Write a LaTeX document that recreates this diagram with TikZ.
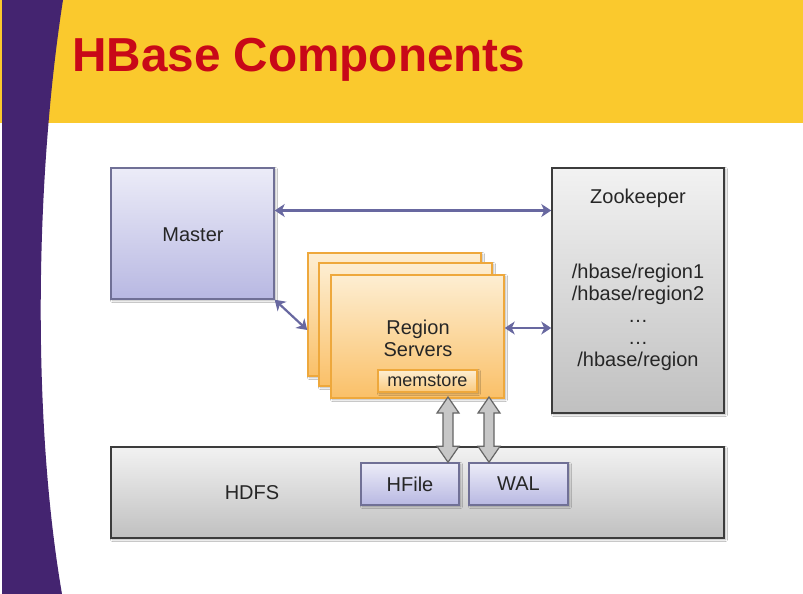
\documentclass[tikz,border=0pt]{standalone}
\usepackage{fontspec}
\setmainfont{Liberation Sans}
\usetikzlibrary{arrows.meta,shadows.blur,calc}

\definecolor{banner}{RGB}{250,201,45}
\definecolor{sidebar}{RGB}{68,36,112}
\definecolor{titlered}{RGB}{200,8,24}
\definecolor{link}{RGB}{104,104,160}
\definecolor{lavtop}{RGB}{236,236,248}
\definecolor{lavbot}{RGB}{184,184,226}
\definecolor{lavline}{RGB}{112,112,150}
\definecolor{greytop}{RGB}{242,242,242}
\definecolor{greybot}{RGB}{192,192,192}
\definecolor{greyline}{RGB}{60,60,60}
\definecolor{ortop}{RGB}{253,238,210}
\definecolor{orbot}{RGB}{250,192,104}
\definecolor{orline}{RGB}{238,168,60}

\tikzset{
  softshadow/.style={blur shadow={shadow xshift=1.5pt,shadow yshift=-1.5pt,
      shadow blur radius=2pt,shadow blur steps=6,shadow opacity=30}},
  lavbox/.style={draw=lavline,line width=1.5pt,top color=lavtop,bottom color=lavbot,
      softshadow,inner sep=0pt},
  greybox/.style={draw=greyline,line width=1.5pt,top color=greytop,bottom color=greybot,
      softshadow,inner sep=0pt},
  rsbox/.style={draw=orline,line width=1.5pt,top color=ortop,bottom color=orbot,
      softshadow,inner sep=0pt,minimum width=173pt,minimum height=123pt},
  label/.style={font=\fontsize{20}{22}\selectfont,text=black!85,align=center},
  link/.style={draw=link,line width=2.2pt,
      {Stealth[length=10pt,width=13pt,inset=3pt]}-{Stealth[length=10pt,width=13pt,inset=3pt]}},
  dblarrow/.style={draw=black!60,line width=1.2pt,fill=black!22,
      to path={let \p1=(\tikztostart), \p2=(\tikztotarget) in
        (\x1,\y1) -- (\x1+11pt,\y1-16pt) -- (\x1+5pt,\y1-16pt) -- (\x1+5pt,\y2+16pt)
        -- (\x1+11pt,\y2+16pt) -- (\x2,\y2) -- (\x1-11pt,\y2+16pt) -- (\x1-5pt,\y2+16pt)
        -- (\x1-5pt,\y1-16pt) -- (\x1-11pt,\y1-16pt) -- cycle}},
}

\begin{document}
\begin{tikzpicture}[x=1pt,y=-1pt]
\useasboundingbox (0,0) rectangle (803,594);
\fill[white] (0,0) rectangle (803,594);

% header band and side bar
\fill[banner] (0,0) rectangle (803,123);
\fill[sidebar] (2,0) -- (63,0) .. controls (35,180) and (32,420) .. (62,594) -- (2,594) -- cycle;
\node[anchor=base west,inner sep=0pt,text=titlered,
      font=\bfseries\fontsize{47.7}{50}\selectfont] (title) at (72,72) {HBase Components};

% main components
\node[lavbox,minimum width=163pt,minimum height=131pt] (master) at (192.5,233.5) {};
\node[label] (mastertxt) at (193,235) {Master};

\node[greybox,minimum width=172pt,minimum height=245pt] (zk) at (638,290.5) {};
\node[label] (zktxt) at (638,198) {Zookeeper};
\node[label] (zklist) at (638,317)
  {/hbase/region1\\/hbase/region2\\…\\…\\/hbase/region};

\node[greybox,minimum width=613pt,minimum height=91pt] (hdfs) at (417.5,492.5) {};
\node[label] (hdfstxt) at (252,493) {HDFS};

% region servers stack
\node[rsbox] (rs3) at (394.5,314.5) {};
\node[rsbox] (rs2) at (405.5,324.5) {};
\node[rsbox] (rs1) at (417.5,336.5) {};
\node[label] (rstxt) at (418,338) {Region\\Servers};
\node[draw=orline,line width=1.5pt,top color=ortop,bottom color=orbot!80!ortop,
      softshadow,minimum width=99pt,minimum height=22pt,inner sep=0pt,
      font=\fontsize{18}{20}\selectfont,text=black!85] (mem) at (427.5,381) {memstore};

% storage files
\node[lavbox,minimum width=98pt,minimum height=42pt,label] (hfile) at (410,484) {HFile};
\node[lavbox,minimum width=99pt,minimum height=42pt,label] (wal) at (518.5,484) {WAL};

% links
\coordinate (mz) at (master.east |- 0,210.5);
\coordinate (zm) at (zk.west |- 0,210.5);
\draw[link] (mz) -- (zm);
\coordinate (rsin) at ($(rs3.west)+(0,15.5)$);
\draw[link] (master.south east) -- (rsin);
\coordinate (rsz) at (rs1.east |- 0,328);
\coordinate (zrs) at (zk.west |- 0,328);
\draw[link] (rsz) -- (zrs);

% read/write paths between memory and disk
\coordinate (a1top) at (448,397);
\coordinate (a1bot) at (448,0 |- hfile.north);
\coordinate (a2top) at (489,397);
\coordinate (a2bot) at (489,0 |- wal.north);
\draw[dblarrow] (a1top) to (a1bot);
\draw[dblarrow] (a2top) to (a2bot);
\end{tikzpicture}
\end{document}
